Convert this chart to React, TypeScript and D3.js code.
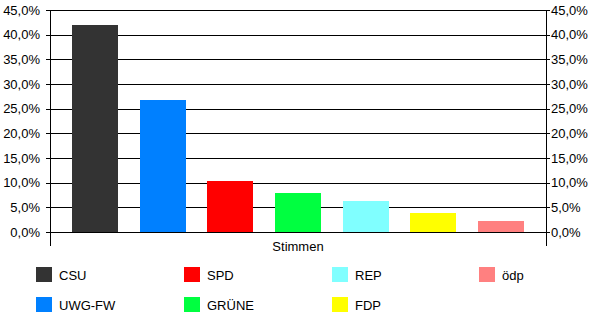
import React from "react";
import * as d3 from "d3";

const parties = ["CSU", "UWG-FW", "SPD", "GRÜNE", "REP", "FDP", "ödp"];
const values = [42.0, 26.8, 10.35, 7.9, 6.3, 3.9, 2.25];
const colors = ["#333333", "#0080ff", "#ff0000", "#00ff40", "#80ffff", "#ffff00", "#ff8080"];
const yTicks = [0, 5, 10, 15, 20, 25, 30, 35, 40, 45];
const categoryLabel = "Stimmen";

const W = 600;
const H = 326;
const left = 50;
const right = 546;
const top = 10;
const bottom = 232;
const font = "'Liberation Sans', Arial, sans-serif";

export default function App() {
  const y = d3.scaleLinear().domain([0, 45]).range([bottom, top]);
  const x = d3
    .scaleBand<string>()
    .domain(parties)
    .range([left, right])
    .paddingInner(0.3185)
    .paddingOuter(0.333);
  const fmt = (v: number) => v.toFixed(1).replace(".", ",") + "%";

  const legendCols = [36, 184, 332, 479];
  const legendRows = [267, 297];
  const legendOrder = [
    [0, 0, 0],
    [1, 0, 1],
    [2, 1, 0],
    [3, 1, 1],
    [4, 2, 0],
    [5, 2, 1],
    [6, 3, 0],
  ];

  return (
    <svg
      width={W}
      height={H}
      style={{ position: "absolute", left: 0, top: 0, background: "#fff" }}
      fontFamily={font}
      fontSize={13}
    >
      <rect x={0} y={0} width={W} height={H} fill="#fff" />
      {yTicks.map((t) => (
        <g key={t} shapeRendering="crispEdges">
          <line x1={left - 4} x2={right + 4} y1={Math.round(y(t)) + 0.5} y2={Math.round(y(t)) + 0.5} stroke="#000" />
        </g>
      ))}
      {parties.map((p, i) => (
        <rect
          key={p}
          x={x(p)}
          y={y(values[i])}
          width={x.bandwidth()}
          height={bottom - y(values[i])}
          fill={colors[i]}
          shapeRendering="crispEdges"
        />
      ))}
      <g shapeRendering="crispEdges">
        <line x1={left + 0.5} x2={left + 0.5} y1={top} y2={bottom + 14} stroke="#000" />
        <line x1={right + 0.5} x2={right + 0.5} y1={top} y2={bottom + 14} stroke="#000" />
        <line x1={left} x2={right} y1={bottom + 0.5} y2={bottom + 0.5} stroke="#000" />
      </g>
      {yTicks.map((t) => (
        <g key={"l" + t}>
          <text x={40} y={y(t)} dy="0.36em" textAnchor="end" fill="#000">
            {fmt(t)}
          </text>
          <text x={551} y={y(t)} dy="0.36em" textAnchor="start" fill="#000">
            {fmt(t)}
          </text>
        </g>
      ))}
      <text x={(left + right) / 2} y={251} textAnchor="middle" fill="#000">
        {categoryLabel}
      </text>
      {legendOrder.map(([i, c, r]) => (
        <g key={"lg" + i}>
          <rect x={legendCols[c]} y={legendRows[r]} width={16} height={15} fill={colors[i]} />
          <text x={legendCols[c] + 23} y={legendRows[r] + 12.5} fill="#000">
            {parties[i]}
          </text>
        </g>
      ))}
    </svg>
  );
}
